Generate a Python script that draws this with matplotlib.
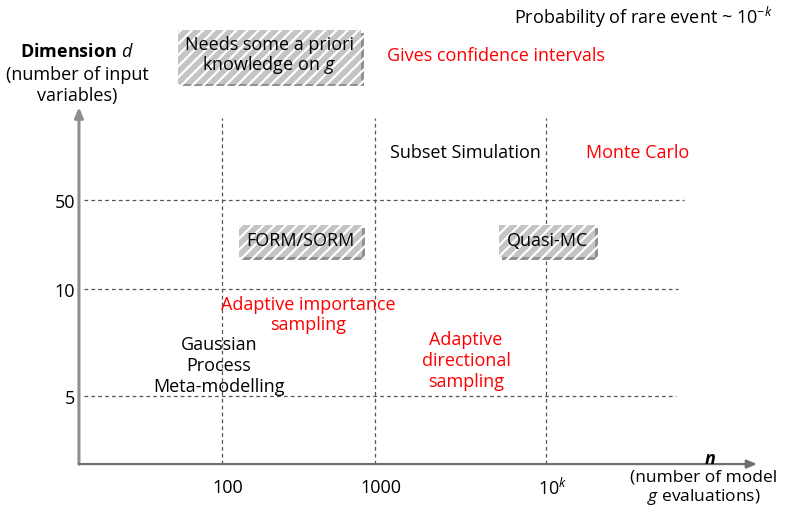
import matplotlib
matplotlib.use("Agg")
import matplotlib.pyplot as plt
import matplotlib.patheffects as pe

plt.rcParams["font.family"] = ["Open Sans", "DejaVu Sans"]
plt.rcParams["mathtext.fontset"] = "custom"
plt.rcParams["mathtext.rm"] = "Open Sans"
plt.rcParams["mathtext.it"] = "Open Sans:italic"
plt.rcParams["mathtext.bf"] = "Open Sans:bold"
plt.rcParams["hatch.linewidth"] = 1.6

# x: number of model evaluations (log-like position), y: dimension level
n_labels = ["100", "1000", r"10$^{k}$"]
n_pos = [2.0, 3.0, 4.12]
d_labels = ["5", "10", "50"]
d_pos = [1.0, 2.0, 2.83]
d_line_end = [4.967, 4.98, 5.02]

# methods: (text, x, y, colour)
methods = [
    ("Subset Simulation", 3.588, 3.271, "black"),
    ("Monte Carlo", 4.719, 3.271, "red"),
    ("Adaptive importance\nsampling", 2.562, 1.757, "red"),
    ("Gaussian\nProcess\nMeta-modelling", 1.980, 1.280, "black"),
    ("Adaptive\ndirectional\nsampling", 3.595, 1.327, "red"),
]
boxed = [
    ("FORM/SORM", 2.513, 2.449),
    ("Quasi-MC", 4.127, 2.449),
]

x0, y0 = 1.065, 0.364
x_end, y_end = 5.497, 3.701
v_top = 3.598
h_start = 1.098

fig = plt.figure(figsize=(7.85, 5.12), dpi=100)
ax = fig.add_axes([0, 0, 1, 1])
ax.set_xlim(0.549, 5.680)
ax.set_ylim(-0.084, 4.701)
ax.axis("off")

grid_kw = dict(color="#555555", lw=0.9, ls=(0, (3, 2.5)))
for x in n_pos:
    ax.plot([x, x], [y0, v_top], **grid_kw)
for y, xe in zip(d_pos, d_line_end):
    ax.plot([h_start, xe], [y, y], **grid_kw)

# axes with arrows
ax.annotate("", xy=(x0, y_end), xytext=(x0, y0),
            arrowprops=dict(arrowstyle="-|>,head_width=0.25,head_length=0.6",
                            color="#8f8f8f", lw=2.2, shrinkA=0, shrinkB=0))
ax.annotate("", xy=(x_end, y0), xytext=(x0, y0),
            arrowprops=dict(arrowstyle="-|>,head_width=0.25,head_length=0.6",
                            color="#6f6f6f", lw=1.6, shrinkA=0, shrinkB=0))

fs = 13
ls = 1.2
for lab, x in zip(n_labels, n_pos):
    ax.text(x + 0.04, 0.14, lab, ha="center", va="center", fontsize=fs)
for lab, y in zip(d_labels, d_pos):
    ax.text(1.04, y - 0.03, lab, ha="right", va="center", fontsize=fs)

ax.text(5.601, 4.542, r"Probability of rare event ~ 10$^{-k}$",
        ha="right", va="center", fontsize=fs)
ax.text(1.052, 4.215, r"Dimension $\mathit{d}$", ha="center", va="center",
        fontsize=fs, fontweight="bold")
ax.text(1.052, 3.90, "(number of input\nvariables)", ha="center", va="center",
        fontsize=fs, linespacing=ls)
ax.text(5.19, 0.411, "n", ha="center", va="center", fontsize=fs,
        fontweight="bold", style="italic")
ax.text(5.15, 0.14, "(number of model\n" + r"$\mathit{g}$ evaluations)",
        ha="center", va="center", fontsize=12.5, linespacing=1.1)

ax.text(3.078, 4.178, "Gives confidence intervals", ha="left", va="center",
        fontsize=fs, color="red")

for txt, x, y, c in methods:
    ax.text(x, y, txt, ha="center", va="center", fontsize=fs, color=c,
            linespacing=ls)

box_kw = dict(boxstyle="square,pad=0.4", fc="#c4c4c4", ec="white",
              hatch="///", lw=0)
shadow = [pe.SimplePatchShadow(offset=(2, -2), shadow_rgbFace="#909090",
                               alpha=1.0), pe.Normal()]
t = ax.text(2.31, 4.178, "Needs some a priori\n" + r"knowledge on $\mathit{g}$",
            ha="center", va="center", fontsize=fs, linespacing=1.05,
            bbox=dict(box_kw, boxstyle="square,pad=0.4"))
t.get_bbox_patch().set_path_effects(shadow)
for txt, x, y in boxed:
    t = ax.text(x, y, txt, ha="center", va="center", fontsize=fs, bbox=box_kw)
    t.get_bbox_patch().set_path_effects(shadow)

fig.savefig("out.png", dpi=100)
